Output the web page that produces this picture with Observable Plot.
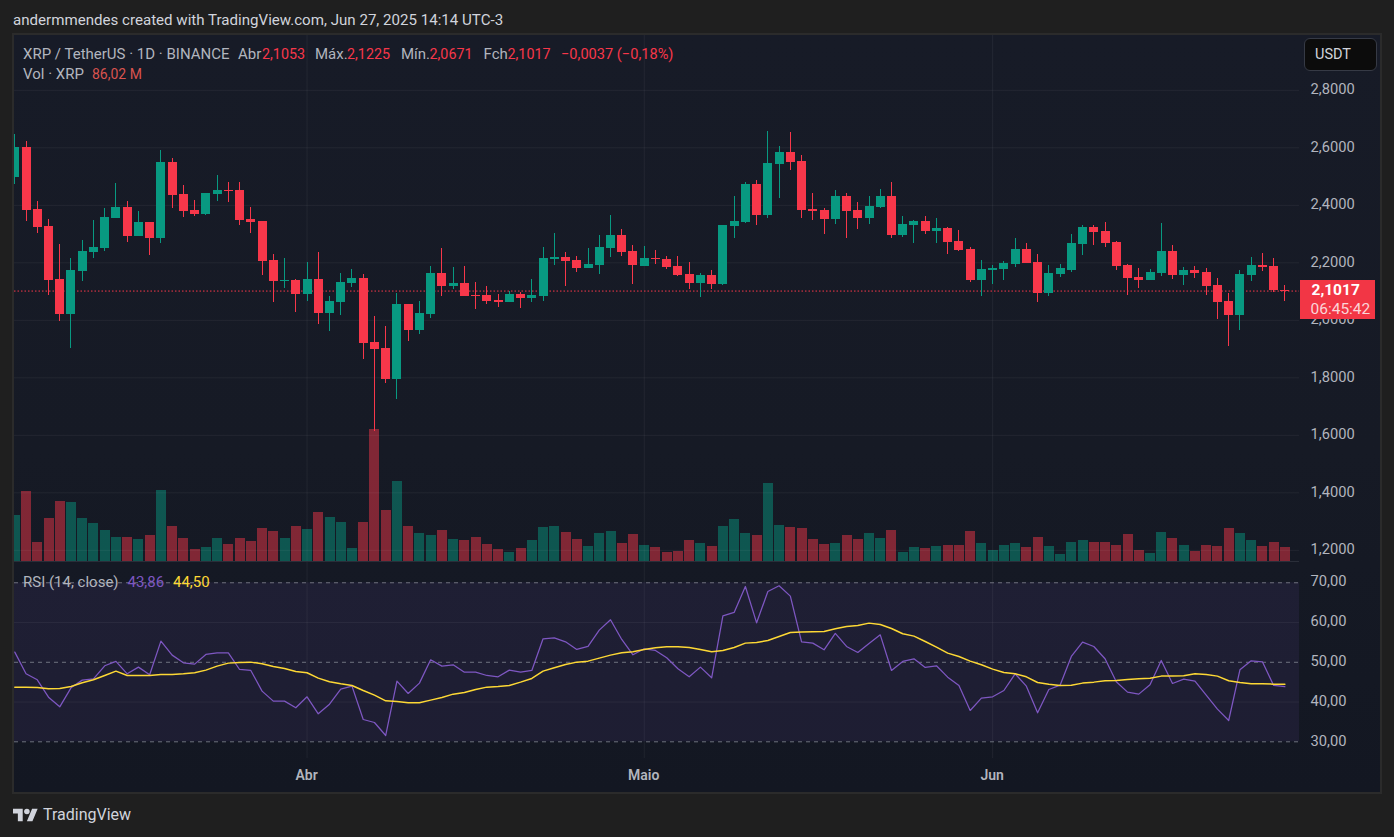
<!DOCTYPE html>
<html lang="pt">
<head>
<meta charset="utf-8">
<title>XRP / TetherUS</title>
<script src="https://cdn.jsdelivr.net/npm/d3@7"></script>
<script src="https://cdn.jsdelivr.net/npm/@observablehq/plot@0.6"></script>
<style>
html,body{margin:0;padding:0;background:#1f1f1f;}
#page{position:relative;width:1394px;height:837px;overflow:hidden;background:#1f1f1f;font-family:Roboto,sans-serif;}
#panel{position:absolute;left:12px;top:33px;width:1370px;height:761px;box-sizing:border-box;border:2px solid #2b2b2b;background:linear-gradient(#171b27,#161a25 55%,#131722);}
.plot{position:absolute;left:0;}
.t{position:absolute;white-space:nowrap;font-size:15px;line-height:20px;transform:translateY(-50%);}
#sep{position:absolute;left:14px;top:561px;width:1285px;height:1px;background:#2a2e39;}
#unit{position:absolute;left:1304px;top:38px;width:73px;height:33px;box-sizing:border-box;border:1px solid #363a45;border-radius:6px;background:#0c0c0c;}
#logo{position:absolute;left:13px;top:808px;}
</style>
</head>
<body>
<div id="page"><div id="panel"></div></div>
<script>
// ---- data ----
const firstDay = new Date(Date.UTC(2025, 2, 6));
const lastDay = new Date(Date.UTC(2025, 5, 27));
const opens = [
2.498,2.601,2.385,2.326,2.142,2.020,2.170,2.236,2.250,2.354,
2.392,2.292,2.340,2.285,2.549,2.438,2.382,2.368,2.438,2.452,
2.452,2.351,2.344,2.208,2.135,2.138,2.090,2.142,2.024,2.062,
2.128,2.145,1.923,1.902,1.794,2.055,1.965,2.020,2.163,2.118,
2.128,2.086,2.086,2.069,2.062,2.090,2.076,2.083,2.211,2.218,
2.208,2.180,2.191,2.250,2.295,2.239,2.187,2.215,2.211,2.187,
2.159,2.128,2.156,2.125,2.326,2.340,2.472,2.365,2.542,2.584,
2.552,2.385,2.382,2.351,2.431,2.382,2.354,2.392,2.431,2.295,
2.330,2.344,2.309,2.319,2.274,2.246,2.138,2.173,2.177,2.194,
2.246,2.201,2.093,2.159,2.173,2.264,2.323,2.309,2.271,2.191,
2.149,2.138,2.163,2.239,2.156,2.173,2.166,2.121,2.065,2.017,
2.156,2.191,2.187,2.1053];
const highs = [
2.646,2.622,2.413,2.351,2.264,2.215,2.278,2.347,2.389,2.476,
2.413,2.378,2.340,2.591,2.563,2.469,2.417,2.441,2.504,2.479,
2.479,2.392,2.344,2.229,2.215,2.142,2.201,2.236,2.083,2.163,
2.177,2.159,2.013,1.978,2.093,2.055,2.065,2.187,2.250,2.184,
2.187,2.131,2.118,2.090,2.100,2.097,2.142,2.253,2.302,2.236,
2.222,2.250,2.295,2.365,2.316,2.260,2.257,2.243,2.222,2.222,
2.201,2.163,2.173,2.330,2.431,2.479,2.486,2.657,2.605,2.653,
2.573,2.441,2.389,2.452,2.441,2.410,2.431,2.455,2.479,2.361,
2.347,2.361,2.354,2.323,2.312,2.253,2.208,2.191,2.204,2.284,
2.267,2.229,2.191,2.194,2.298,2.330,2.330,2.340,2.274,2.194,
2.180,2.177,2.337,2.260,2.184,2.187,2.180,2.145,2.093,2.173,
2.218,2.232,2.215,2.1225];
const lows = [
2.474,2.344,2.302,2.086,1.996,1.902,2.135,2.215,2.239,2.354,
2.271,2.292,2.225,2.267,2.389,2.358,2.361,2.365,2.413,2.410,
2.330,2.302,2.156,2.062,2.111,2.027,2.065,1.985,1.961,2.017,
2.114,1.864,1.613,1.780,1.725,1.926,1.951,2.006,2.083,2.107,
2.083,2.038,2.055,2.045,2.062,2.041,2.062,2.065,2.191,2.118,
2.166,2.180,2.159,2.218,2.222,2.125,2.187,2.194,2.177,2.152,
2.107,2.079,2.107,2.121,2.285,2.337,2.330,2.354,2.424,2.521,
2.354,2.347,2.298,2.333,2.285,2.316,2.333,2.389,2.284,2.288,
2.267,2.298,2.267,2.229,2.239,2.131,2.083,2.124,2.138,2.184,
2.198,2.062,2.083,2.149,2.166,2.225,2.260,2.253,2.173,2.086,
2.111,2.138,2.152,2.142,2.121,2.145,2.086,2.003,1.909,1.964,
2.135,2.170,2.097,2.0671];
const closes = [
2.601,2.382,2.323,2.138,2.020,2.173,2.239,2.253,2.358,2.392,
2.292,2.340,2.285,2.549,2.434,2.378,2.368,2.441,2.452,2.448,
2.347,2.340,2.205,2.135,2.138,2.090,2.142,2.024,2.065,2.131,
2.145,1.919,1.898,1.794,2.055,1.965,2.024,2.163,2.118,2.128,
2.083,2.083,2.065,2.062,2.090,2.076,2.086,2.215,2.218,2.205,
2.180,2.194,2.253,2.295,2.236,2.191,2.215,2.211,2.184,2.156,
2.128,2.156,2.125,2.330,2.344,2.472,2.365,2.545,2.584,2.549,
2.382,2.378,2.351,2.431,2.378,2.354,2.396,2.431,2.295,2.333,
2.344,2.309,2.319,2.271,2.243,2.138,2.177,2.180,2.198,2.246,
2.198,2.093,2.163,2.180,2.267,2.323,2.305,2.267,2.187,2.145,
2.138,2.166,2.239,2.156,2.173,2.163,2.118,2.062,2.017,2.159,
2.191,2.184,2.104,2.1017];
// volume, millions of XRP
const volumes = [
284,432,119,266,370,364,266,235,192,149,
149,137,162,438,217,143,76,88,143,106,
143,125,205,186,143,217,199,303,272,242,
82,242,813,315,493,217,174,162,192,137,
131,149,106,76,57,82,131,211,217,180,
137,94,174,186,113,168,100,86,55,61,
129,111,92,215,258,172,160,479,221,209,
203,135,104,111,160,135,172,141,190,55,
86,80,92,98,98,184,111,68,98,111,
86,147,92,43,117,129,117,117,98,166,
68,49,178,141,98,61,98,92,203,172,
129,92,117,86.02];
const rsi = [
52.55,47.10,45.59,41.23,38.80,43.58,45.51,45.85,49.12,50.21,
47.10,48.78,46.85,55.32,51.80,49.87,49.54,51.97,52.39,52.39,
48.19,47.94,42.74,40.23,40.23,38.55,41.32,37.04,39.47,43.25,
44.00,35.61,34.86,31.59,45.26,42.16,44.76,50.63,49.03,49.37,
47.52,47.52,46.68,46.35,48.03,47.52,47.94,55.91,56.16,55.15,
53.23,53.98,58.09,60.69,55.74,51.88,53.39,52.97,51.13,48.36,
46.35,48.78,46.10,61.69,62.53,69.07,59.93,67.82,69.24,66.64,
55.15,54.82,53.14,57.25,53.98,52.47,54.73,56.91,47.94,50.21,
50.88,48.70,49.12,46.26,44.17,37.88,40.98,41.32,42.91,47.10,
44.00,37.29,43.16,44.25,51.46,55.07,53.98,50.88,45.09,42.49,
41.99,44.34,50.46,44.67,45.76,45.26,41.74,38.21,35.36,48.11,
50.37,50.12,44.17,43.86];
const rsiAverage = [
43.75,43.75,43.67,43.33,43.41,43.92,44.84,45.59,46.68,47.77,
46.68,46.68,46.68,46.94,46.94,47.10,47.36,48.03,49.03,49.79,
49.95,50.04,49.62,48.95,48.45,47.69,47.36,46.01,45.09,44.59,
44.17,42.91,41.74,40.31,40.14,39.81,39.81,40.48,41.15,41.99,
42.41,43.16,43.75,43.92,44.17,45.01,45.93,47.77,48.61,49.45,
50.04,50.29,51.05,51.80,52.39,52.64,53.23,53.64,53.90,53.90,
53.73,53.23,52.64,52.97,53.73,54.82,54.99,55.49,56.50,57.50,
57.59,57.67,57.75,58.42,59.01,59.26,59.85,59.51,58.51,57.17,
56.58,55.24,53.81,52.30,51.46,50.29,49.37,48.28,47.44,47.10,
46.35,44.92,44.50,44.17,44.25,44.76,45.01,45.34,45.43,45.68,
45.85,46.01,46.52,46.52,46.60,47.10,46.94,46.52,45.34,44.92,
44.59,44.59,44.50,44.50];
const priceTicks = [2.8,2.6,2.4,2.2,2.0,1.8,1.6,1.4,1.2];
const rsiTicks = [70,60,50,40,30];
const rsiDashed = [70,50,30];
const rsiGrid = [60,40];
const monthTicks = [new Date(Date.UTC(2025,3,1)),new Date(Date.UTC(2025,4,1)),new Date(Date.UTC(2025,5,1))];
const monthLabels = ["Abr","Maio","Jun"];
const lastClose = 2.1017;

// ---- derived table ----
const days = d3.utcDay.range(firstDay, d3.utcDay.offset(lastDay, 1));
[opens,highs,lows,closes,volumes,rsi,rsiAverage].forEach(a=>{ if(a.length!==days.length) throw new Error("length "+a.length); });
const candles = days.map((date,i)=>({date,open:opens[i],high:highs[i],low:lows[i],close:closes[i],volume:volumes[i],rsi:rsi[i],avg:rsiAverage[i],up:closes[i]>=opens[i]}));

// ---- style ----
const UP="#089981", DOWN="#f7374a", AXIS="#b2b5be";
const GRID="#ffffff", GRIDOP=0.055;
const hours=(n)=>new Date(firstDay.getTime()+n*3600e3);
const xDomain=[hours(-0.64),hours(114.3*24)];
const tagStart=hours(114.39*24), tagEnd=hours(121.06*24);
const comma=(n,d)=>d3.format("."+d+"f")(n).replace(".",",");
const base={width:1394,marginLeft:14,marginRight:95,marginTop:0,
  style:{background:"transparent",fontFamily:"Roboto,sans-serif",fontSize:"14px",overflow:"visible"}};
const xOpt={type:"utc",domain:xDomain,axis:null};
const page=document.getElementById("page");
function place(svg,top){svg.classList.add("plot");svg.style.position="absolute";svg.style.left="0";svg.style.top=top+"px";page.appendChild(svg);}

// volume pane, beneath the price pane
place(Plot.plot({...base,height:527,marginBottom:0.7,x:xOpt,y:{domain:[0,3232],axis:null},
  marks:[
    Plot.ruleX(candles,{x:"date",y1:0,y2:"volume",stroke:d=>d.up?UP:DOWN,strokeOpacity:0.48,strokeWidth:10,clip:"frame",shapeRendering:"crispEdges"})
  ]}),35);

// price pane
place(Plot.plot({...base,height:527,marginBottom:0,x:xOpt,y:{domain:[1.1576,2.9906],axis:null},
  marks:[
    Plot.gridX(monthTicks,{stroke:GRID,strokeOpacity:GRIDOP}),
    Plot.gridY(priceTicks,{stroke:GRID,strokeOpacity:GRIDOP}),
    Plot.axisY(priceTicks,{anchor:"right",tickSize:0,tickPadding:11,dy:-1,tickFormat:d=>comma(d,4),fontSize:14.7,color:AXIS,label:null}),
    Plot.ruleY([lastClose],{stroke:DOWN,strokeDasharray:"1.5 2"}),
    Plot.ruleX(candles,{x:"date",y1:"low",y2:"high",stroke:d=>d.up?UP:DOWN,strokeWidth:1,clip:"frame",shapeRendering:"crispEdges"}),
    Plot.ruleX(candles,{x:"date",y1:"open",y2:"close",stroke:d=>d.up?UP:DOWN,strokeWidth:9,clip:"frame",shapeRendering:"crispEdges"}),
    Plot.ruleY([lastClose],{x1:()=>tagStart,x2:()=>tagEnd,stroke:"#f23645",strokeWidth:39,dy:8.5,shapeRendering:"crispEdges"}),
    Plot.text([lastClose],{x:()=>tagStart,y:d=>d,text:d=>comma(d,4),dx:11,dy:-1,textAnchor:"start",fill:"#fff",fontSize:15.5,fontWeight:700}),
    Plot.text(["06:45:42"],{x:()=>tagStart,y:()=>lastClose,text:d=>d,dx:10,dy:17.5,textAnchor:"start",fill:"#fbd5d8",fontSize:15.5})
  ]}),35);

// RSI pane
place(Plot.plot({...base,height:231,marginBottom:35,x:xOpt,y:{domain:[25.8,75.1],axis:null},
  marks:[
    Plot.rect([0],{x1:()=>xDomain[0],x2:()=>xDomain[1],y1:()=>30,y2:()=>70,fill:"#7e57c2",fillOpacity:0.1}),
    Plot.gridX(monthTicks,{stroke:GRID,strokeOpacity:GRIDOP}),
    Plot.gridY(rsiGrid,{stroke:GRID,strokeOpacity:GRIDOP}),
    Plot.ruleY(rsiDashed,{stroke:"#787b86",strokeDasharray:"4 4",strokeOpacity:0.9}),
    Plot.line(candles,{x:"date",y:"rsi",stroke:"#7e57c2",strokeWidth:1.25}),
    Plot.line(candles,{x:"date",y:"avg",stroke:"#fdd835",strokeWidth:1.5}),
    Plot.axisY(rsiTicks,{anchor:"right",tickSize:0,tickPadding:11,dy:-1,tickFormat:d=>comma(d,2),fontSize:14.7,color:AXIS,label:null}),
    Plot.axisX(monthTicks,{anchor:"bottom",tickSize:0,tickPadding:12,dx:-0.5,tickFormat:(d,i)=>monthLabels[i],fontSize:14,fontWeight:600,color:AXIS,label:null})
  ]}),562);

// ---- text furniture ----
function t(text,x,y,color,extra){const e=document.createElement("div");e.className="t";e.textContent=text;e.style.left=x+"px";e.style.top=y+"px";e.style.color=color;if(extra)Object.assign(e.style,extra);page.appendChild(e);return e;}
const LBL="#b2b5be", RED="#f7374a", NUM={fontSize:"14.3px"};
t("andermmendes created with TradingView.com, Jun 27, 2025 14:14 UTC-3",13,20,"#d1d4dc",{fontSize:"15.1px"});
t("XRP / TetherUS · 1D · BINANCE",23,54,LBL);
t("Abr",238,54,LBL); t("2,1053",262,54,RED,NUM);
t("Máx.",315,54,LBL); t("2,1225",347,54,RED,NUM);
t("Mín.",401,54,LBL); t("2,0671",429.5,54,RED,NUM);
t("Fch",483.5,54,LBL); t("2,1017",507.5,54,RED,NUM);
t("−0,0037 (−0,18%)",561,54,RED,{fontSize:"14.6px"});
t("Vol · XRP",23,74,LBL); t("86,02 M",92,74,"#d9534f",{fontSize:"14px"});
t("RSI (14, close)",23,582,LBL); t("43,86",127.5,582,"#7e57c2"); t("44,50",173,582,"#fdd835");
const sep=document.createElement("div");sep.id="sep";page.appendChild(sep);
const unit=document.createElement("div");unit.id="unit";page.appendChild(unit);
t("USDT",1315,54.5,"#d1d4dc",{fontSize:"14.5px"});
const ns="http://www.w3.org/2000/svg";
const logo=document.createElementNS(ns,"svg");logo.id="logo";logo.setAttribute("width","25");logo.setAttribute("height","14");logo.setAttribute("viewBox","0 4 36 18");
logo.innerHTML='<path fill="#d1d4dc" d="M14 22H7V11H0V4h14v18zM28 22h-8l7.5-18h8L28 22z"/><circle fill="#d1d4dc" cx="20" cy="8" r="4"/>';
page.appendChild(logo);
t("TradingView",43,815,"#d1d4dc",{fontSize:"16px"});
</script>
</body>
</html>
